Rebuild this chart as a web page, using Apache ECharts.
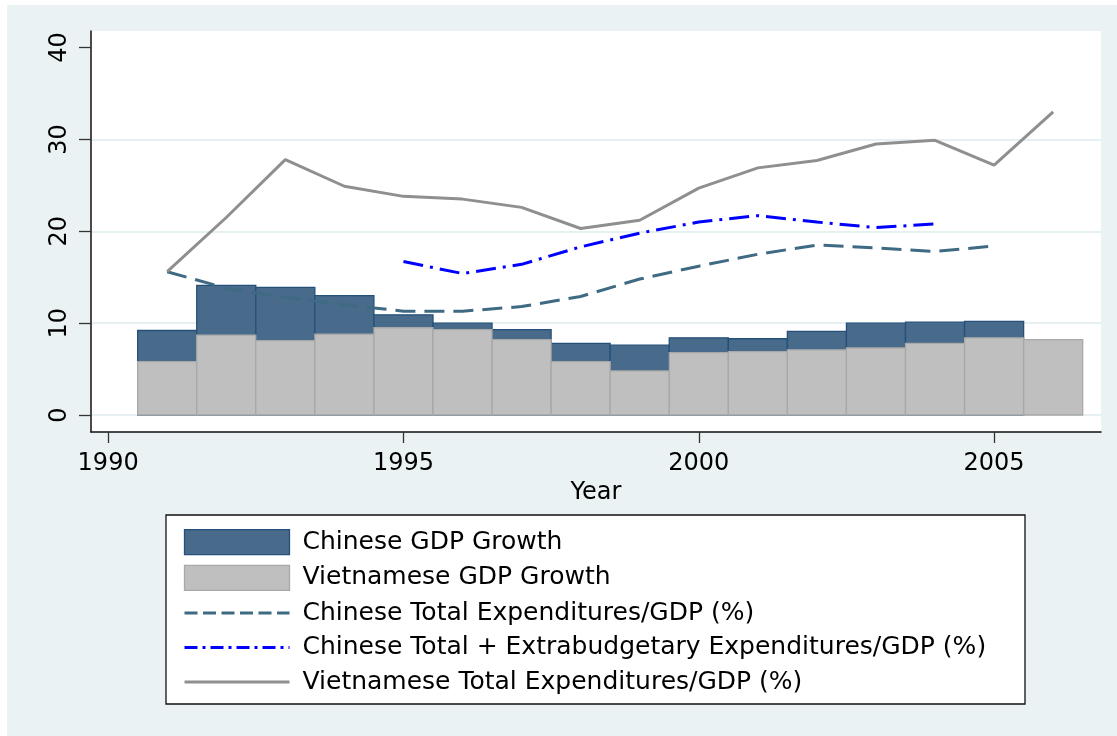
<!DOCTYPE html>
<html>
<head>
<meta charset="utf-8">
<script src="https://cdn.jsdelivr.net/npm/echarts@6/dist/echarts.min.js"></script>
<style>
  html, body { margin: 0; padding: 0; background: #ffffff; }
  #chart { position: absolute; left: 7px; top: 5px; width: 1110px; height: 731px; }
</style>
</head>
<body>
<div id="chart"></div>
<script>
// data
const years = [1991, 1992, 1993, 1994, 1995, 1996, 1997, 1998, 1999, 2000, 2001, 2002, 2003, 2004, 2005, 2006];
const chinaGdpGrowth = [9.2, 14.1, 13.9, 13.0, 10.9, 10.0, 9.3, 7.8, 7.6, 8.4, 8.3, 9.1, 10.0, 10.1, 10.2, null];
const vietnamGdpGrowth = [5.8, 8.7, 8.1, 8.8, 9.5, 9.3, 8.2, 5.8, 4.8, 6.8, 6.9, 7.1, 7.3, 7.8, 8.4, 8.2];
const chinaExpYears = [1991, 1992, 1993, 1994, 1995, 1996, 1997, 1998, 1999, 2000, 2001, 2002, 2003, 2004, 2005];
const chinaExp = [15.6, 13.8, 12.8, 12.0, 11.3, 11.3, 11.8, 12.9, 14.8, 16.2, 17.5, 18.5, 18.2, 17.8, 18.4];
const chinaExtraYears = [1995, 1996, 1997, 1998, 1999, 2000, 2001, 2002, 2003, 2004];
const chinaExtraExp = [16.7, 15.4, 16.4, 18.3, 19.8, 21.0, 21.7, 21.0, 20.4, 20.8];
const vietnamExp = [15.6, 21.5, 27.8, 24.9, 23.8, 23.5, 22.6, 20.3, 21.2, 24.7, 26.9, 27.7, 29.5, 29.9, 27.2, 33.0];
const xTicks = [1990, 1995, 2000, 2005];
const yTicks = [0, 10, 20, 30, 40];

const FONT = 'DejaVu Sans';
const navyBar = '#486a8b';
const grayBar = '#bfbfbf';

function pairs(xs, ys) {
  return xs.map((x, i) => [x, ys[i]]).filter(p => p[1] != null);
}

// histogram-like bars: each one spans a full year, centred on the year
function yearBar(fill, stroke) {
  return function (params, api) {
    const x = api.value(0);
    const v = api.value(1);
    const p0 = api.coord([x - 0.5, v]);
    const p1 = api.coord([x + 0.5, 0]);
    return {
      type: 'rect',
      shape: { x: p0[0], y: p0[1], width: p1[0] - p0[0], height: p1[1] - p0[1] },
      style: { fill: fill, stroke: stroke, lineWidth: 1.3 }
    };
  };
}

// line legend entries: keep the line, hide the round marker
const noMarker = { color: 'rgba(0,0,0,0)', borderWidth: 0, opacity: 0 };

const chart = echarts.init(document.getElementById('chart'));

const option = {
  backgroundColor: '#eaf2f3',
  animation: false,
  grid: {
    left: 84, top: 26, right: 16, bottom: 304,
    show: true, backgroundColor: '#ffffff', borderWidth: 0
  },
  graphic: [{
    type: 'rect', z: 1,
    shape: { x: 159, y: 510, width: 859, height: 189 },
    style: { fill: '#ffffff', stroke: '#111', lineWidth: 1.3 }
  }],
  legend: {
    z: 10,
    orient: 'vertical',
    left: 171, top: 519,
    itemWidth: 105, itemHeight: 25, itemGap: 9.5,
    selectedMode: false,
    textStyle: { fontFamily: FONT, fontSize: 25, color: '#000', padding: [0, 0, 0, 8] },
    data: [
      { name: 'Chinese GDP Growth', icon: 'rect', itemStyle: { color: navyBar, borderColor: '#24507a', borderWidth: 1.3 } },
      { name: 'Vietnamese GDP Growth', icon: 'rect', itemStyle: { color: grayBar, borderColor: '#a8a8a8', borderWidth: 1.3 } },
      { name: 'Chinese Total Expenditures/GDP (%)', itemStyle: noMarker, lineStyle: { width: 3, type: [13, 5.5] } },
      { name: 'Chinese Total + Extrabudgetary Expenditures/GDP (%)', itemStyle: noMarker, lineStyle: { width: 3, type: [13, 5, 3, 5] } },
      { name: 'Vietnamese Total Expenditures/GDP (%)', itemStyle: noMarker, lineStyle: { width: 3 } }
    ]
  },
  xAxis: {
    type: 'value',
    min: 1989.71, max: 2006.81,
    name: 'Year',
    nameLocation: 'middle',
    nameGap: 40,
    nameTextStyle: { fontFamily: FONT, fontSize: 24, color: '#000' },
    axisLine: { onZero: false, lineStyle: { color: '#111', width: 1.5 } },
    axisTick: { customValues: xTicks, length: 11, lineStyle: { color: '#333', width: 1.3 } },
    axisLabel: {
      customValues: xTicks, margin: 20,
      fontFamily: FONT, fontSize: 24, color: '#000',
      formatter: v => String(v)
    },
    splitLine: { show: false }
  },
  yAxis: {
    type: 'value',
    min: -1.85, max: 41.8,
    axisLine: { show: true, lineStyle: { color: '#111', width: 1.5 } },
    axisTick: { show: true, customValues: yTicks, length: 12, lineStyle: { color: '#333', width: 1.3 } },
    axisLabel: {
      customValues: yTicks, rotate: 90, margin: 19,
      fontFamily: FONT, fontSize: 24, color: '#000'
    },
    splitLine: {
      show: true, showMaxLine: false,
      lineStyle: { color: ['#e6eff1', '#e6eff1', '#e6eff1', '#e6eff1', 'rgba(0,0,0,0)'], width: 2 }
    }
  },
  series: [
    {
      name: 'Chinese GDP Growth',
      type: 'custom',
      itemStyle: { color: navyBar },
      renderItem: yearBar(navyBar, '#24507a'),
      data: pairs(years, chinaGdpGrowth),
      z: 2
    },
    {
      name: 'Vietnamese GDP Growth',
      type: 'custom',
      itemStyle: { color: grayBar },
      renderItem: yearBar(grayBar, '#a8a8a8'),
      data: pairs(years, vietnamGdpGrowth),
      z: 3
    },
    {
      name: 'Chinese Total Expenditures/GDP (%)',
      type: 'line',
      symbol: 'none',
      data: pairs(chinaExpYears, chinaExp),
      itemStyle: { color: '#3f6a83' },
      lineStyle: { color: '#3f6a83', width: 3, type: [20, 9] },
      z: 4
    },
    {
      name: 'Chinese Total + Extrabudgetary Expenditures/GDP (%)',
      type: 'line',
      symbol: 'none',
      data: pairs(chinaExtraYears, chinaExtraExp),
      itemStyle: { color: '#0000ff' },
      lineStyle: { color: '#0000ff', width: 3, type: [20, 7, 3, 7] },
      z: 4
    },
    {
      name: 'Vietnamese Total Expenditures/GDP (%)',
      type: 'line',
      symbol: 'none',
      data: pairs(years, vietnamExp),
      itemStyle: { color: '#8f8f8f' },
      lineStyle: { color: '#8f8f8f', width: 3 },
      z: 4
    }
  ]
};

chart.setOption(option);
window.addEventListener('resize', () => chart && chart.resize());
</script>
</body>
</html>
